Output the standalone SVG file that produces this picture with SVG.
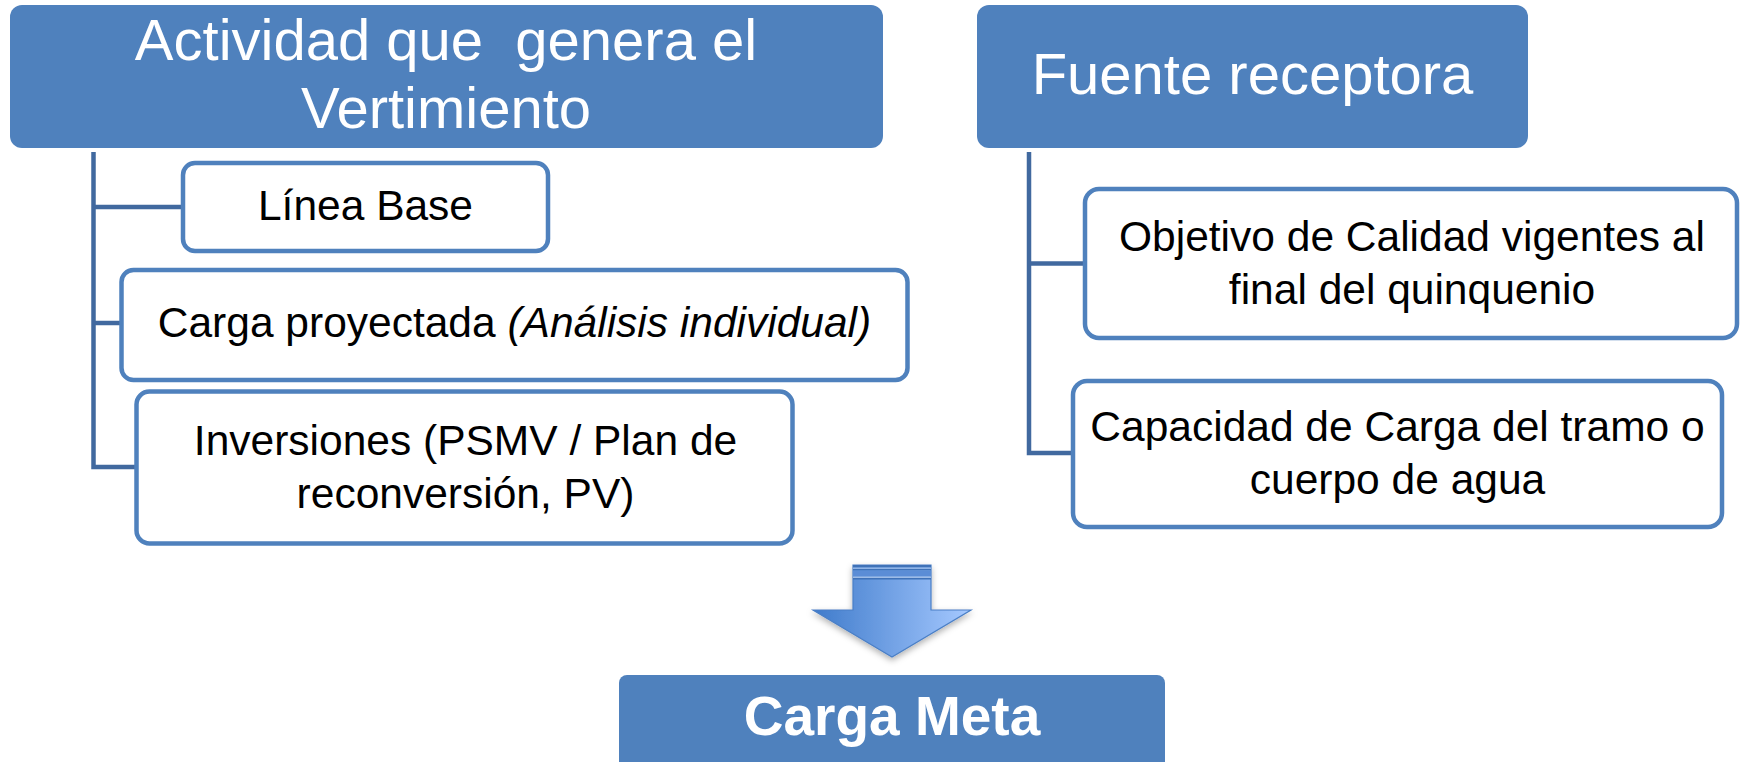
<svg xmlns="http://www.w3.org/2000/svg" width="1742" height="762" viewBox="0 0 1742 762">
<style>
.hdr{fill:#4f81bd;}
.box{fill:#ffffff;stroke:#4f81bd;stroke-width:4.5;}
.conn{fill:none;stroke:#41699f;stroke-width:4.5;}
.ht{font-family:"Liberation Sans",Arial,sans-serif;font-size:58px;fill:#ffffff;text-anchor:middle;}
.ct{font-family:"Liberation Sans",Arial,sans-serif;font-size:42.5px;fill:#000000;text-anchor:middle;}
.mt{font-family:"Liberation Sans",Arial,sans-serif;font-size:55px;font-weight:bold;fill:#ffffff;text-anchor:middle;}
</style>
<defs>
<linearGradient id="arrowGrad" x1="0" y1="0" x2="1" y2="0">
<stop offset="0" stop-color="#3f7bcb"/>
<stop offset="1" stop-color="#a6c9ff"/>
</linearGradient>
<filter id="shadow" x="-20%" y="-20%" width="140%" height="150%">
<feDropShadow dx="0" dy="3" stdDeviation="3" flood-color="#000000" flood-opacity="0.3"/>
</filter>
</defs>
<g id="connectors">
<path class="conn" d="M93.5,152 V467 H136"/>
<path class="conn" d="M93.5,207 H183"/>
<path class="conn" d="M93.5,323 H121"/>
<path class="conn" d="M1029,152 V453 H1073"/>
<path class="conn" d="M1029,263.5 H1085"/>
</g>
<g id="node-actividad">
<rect class="hdr" x="10" y="5" width="873" height="143" rx="12"/>
<text class="ht" x="446" y="60" xml:space="preserve">Actividad que  genera el</text>
<text class="ht" x="446" y="128">Vertimiento</text>
</g>
<g id="node-fuente">
<rect class="hdr" x="977" y="5" width="551" height="143" rx="12"/>
<text class="ht" x="1252.5" y="94">Fuente receptora</text>
</g>
<g id="node-linea-base">
<rect class="box" x="183" y="163" width="365" height="88" rx="12"/>
<text class="ct" x="365.5" y="220">Línea Base</text>
</g>
<g id="node-carga-proyectada">
<rect class="box" x="121.5" y="270" width="786" height="110" rx="12"/>
<text class="ct" x="514.5" y="337">Carga proyectada <tspan font-style="italic">(Análisis individual)</tspan></text>
</g>
<g id="node-inversiones">
<rect class="box" x="136.5" y="391.5" width="656" height="152" rx="13"/>
<text class="ct" x="465.5" y="455">Inversiones (PSMV / Plan de</text>
<text class="ct" x="465.5" y="508">reconversión, PV)</text>
</g>
<g id="node-objetivo">
<rect class="box" x="1085" y="189" width="652" height="149" rx="14"/>
<text class="ct" x="1412" y="251">Objetivo de Calidad vigentes al</text>
<text class="ct" x="1412" y="303.5">final del quinquenio</text>
</g>
<g id="node-capacidad">
<rect class="box" x="1073" y="381" width="649" height="146" rx="14"/>
<text class="ct" x="1397.5" y="441">Capacidad de Carga del tramo o</text>
<text class="ct" x="1397.5" y="493.5">cuerpo de agua</text>
</g>
<g id="arrow">
<path d="M853,565 H931 V610 H971 L892,657 L813,610 H853 Z" fill="url(#arrowGrad)" stroke="#4a7fc6" stroke-width="1.2" filter="url(#shadow)"/>
<rect x="853" y="565" width="78" height="2.5" fill="#3f72b8"/>
<rect x="853" y="567.5" width="78" height="1.5" fill="#8fb3e6"/>
<rect x="853" y="569" width="78" height="1.5" fill="#3f72b8"/>
<rect x="853" y="570.5" width="78" height="6" fill="#5b8dd6"/>
<rect x="853" y="576.5" width="78" height="1.5" fill="#9dbbe6"/>
<rect x="853" y="578" width="78" height="1.5" fill="#3f72b8"/>
</g>
<g id="node-carga-meta">
<rect class="hdr" x="619" y="675" width="546" height="100" rx="8"/>
<text class="mt" x="892" y="735">Carga Meta</text>
</g>
</svg>
